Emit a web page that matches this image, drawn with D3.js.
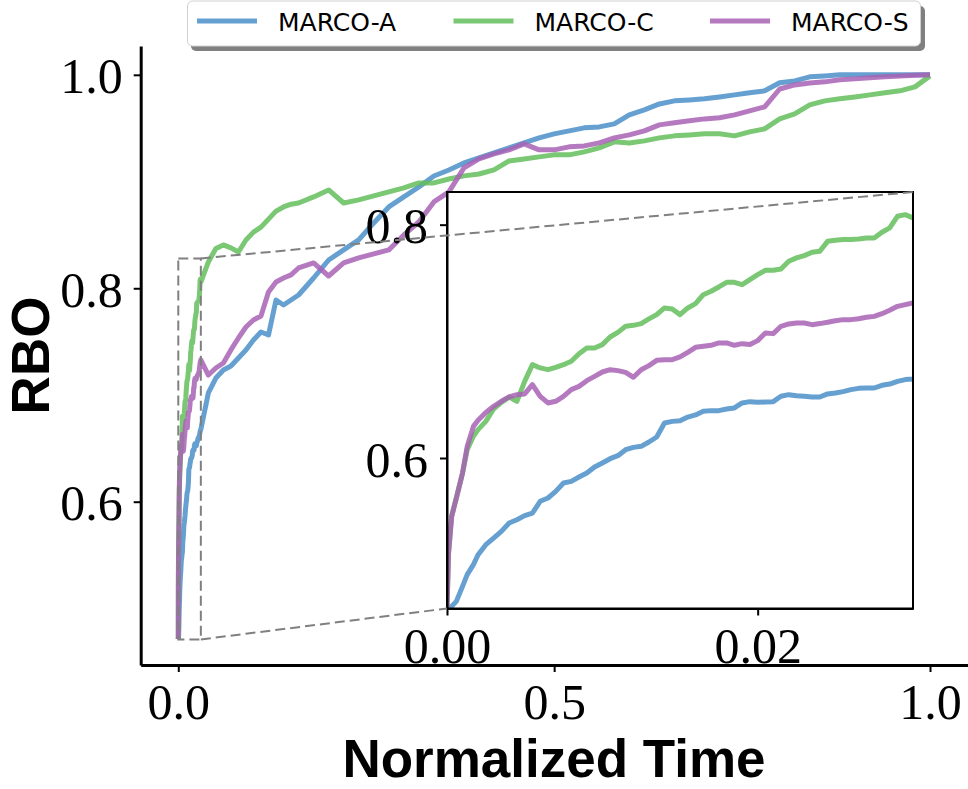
<!DOCTYPE html>
<meta charset="utf-8">

<style>

body {
  margin: 0;
  background: #fff;
}

.tick text {
  font: 50px "Liberation Serif", serif;
  fill: #000;
}

.label {
  font: bold 53px "Liberation Sans", sans-serif;
  fill: #000;
}

.legend text {
  font: 25px "DejaVu Sans", sans-serif;
  fill: #000;
}

</style>
<svg width="968" height="789"></svg>
<script src="https://d3js.org/d3.v7.min.js"></script>
<script>

// series names and colours
var names = ["MARCO-A", "MARCO-C", "MARCO-S"],
    colors = ["#4a8fc9", "#63bd5c", "#a862b5"];

// time samples inside the zoomed window (0 .. 0.03)
var zoomTime = [0, 0.0001, 0.0003, 0.0006, 0.001, 0.0013, 0.0017, 0.002,
  0.0025, 0.003, 0.0035, 0.004, 0.0045, 0.005, 0.0055, 0.006, 0.0065, 0.007,
  0.0075, 0.008, 0.0085, 0.009, 0.0095, 0.01, 0.0105, 0.011, 0.0115, 0.012,
  0.0125, 0.013, 0.0135, 0.014, 0.0145, 0.015, 0.0155, 0.016, 0.0165, 0.017,
  0.0175, 0.018, 0.0185, 0.019, 0.0195, 0.02, 0.0205, 0.021, 0.0215, 0.022,
  0.0225, 0.023, 0.0235, 0.024, 0.0245, 0.025, 0.0255, 0.026, 0.0265, 0.027,
  0.0275, 0.028, 0.0285, 0.029, 0.0295, 0.03];

// time samples for the rest of the run
var restTime = [0.04, 0.05, 0.06, 0.07, 0.08, 0.09, 0.10, 0.11, 0.12, 0.13,
  0.14, 0.15, 0.16, 0.18, 0.20, 0.22, 0.24, 0.26, 0.28, 0.30, 0.32, 0.34,
  0.36, 0.38, 0.40, 0.42, 0.44, 0.46, 0.48, 0.50, 0.52, 0.54, 0.56, 0.58,
  0.60, 0.62, 0.64, 0.66, 0.68, 0.70, 0.72, 0.74, 0.76, 0.78, 0.80, 0.82,
  0.84, 0.86, 0.88, 0.90, 0.92, 0.94, 0.96, 0.98, 1.00];

// RBO values, zoomed part
var aZoom = [0.4714, 0.4720, 0.4728, 0.4771, 0.4900, 0.5000, 0.5086, 0.5171,
  0.5257, 0.5314, 0.5371, 0.5443, 0.5471, 0.5506, 0.5528, 0.5629, 0.5657,
  0.5714, 0.5786, 0.5800, 0.5837, 0.5871, 0.5923, 0.5957, 0.5994, 0.6020,
  0.6071, 0.6091, 0.6100, 0.6137, 0.6180, 0.6300, 0.6314, 0.6320, 0.6351,
  0.6369, 0.6400, 0.6406, 0.6406, 0.6420, 0.6429, 0.6472, 0.6483, 0.6477,
  0.6480, 0.6483, 0.6529, 0.6543, 0.6534, 0.6529, 0.6523, 0.6523, 0.6549,
  0.6557, 0.6569, 0.6586, 0.6597, 0.6600, 0.6600, 0.6623, 0.6634, 0.6657,
  0.6672, 0.6677];

var cZoom = [0.4714, 0.5186, 0.5500, 0.5657, 0.5871, 0.6071, 0.6186, 0.6243,
  0.6314, 0.6420, 0.6477, 0.6523, 0.6486, 0.6657, 0.6800, 0.6772, 0.6757,
  0.6777, 0.6800, 0.6829, 0.6894, 0.6943, 0.6943, 0.6972, 0.7037, 0.7077,
  0.7129, 0.7137, 0.7152, 0.7192, 0.7229, 0.7286, 0.7277, 0.7229, 0.7286,
  0.7323, 0.7400, 0.7429, 0.7466, 0.7506, 0.7506, 0.7486, 0.7529, 0.7572,
  0.7609, 0.7609, 0.7620, 0.7686, 0.7715, 0.7735, 0.7763, 0.7772, 0.7857,
  0.7866, 0.7872, 0.7872, 0.7877, 0.7886, 0.7886, 0.7935, 0.7972, 0.8072,
  0.8086, 0.8057];

var sZoom = [0.4714, 0.5186, 0.5500, 0.5657, 0.5871, 0.6100, 0.6271, 0.6323,
  0.6391, 0.6443, 0.6486, 0.6523, 0.6543, 0.6549, 0.6629, 0.6529, 0.6472,
  0.6486, 0.6529, 0.6586, 0.6614, 0.6663, 0.6700, 0.6737, 0.6757, 0.6749,
  0.6734, 0.6692, 0.6757, 0.6792, 0.6837, 0.6843, 0.6843, 0.6866, 0.6906,
  0.6949, 0.6957, 0.6966, 0.6986, 0.6986, 0.6966, 0.6980, 0.6972, 0.7006,
  0.7072, 0.7066, 0.7129, 0.7149, 0.7157, 0.7157, 0.7143, 0.7152, 0.7163,
  0.7177, 0.7186, 0.7186, 0.7194, 0.7206, 0.7214, 0.7237, 0.7266, 0.7300,
  0.7315, 0.7329];

// RBO values, rest of the run
var aRest = [0.7019, 0.7159, 0.7234, 0.7272, 0.7347, 0.7422, 0.7515, 0.7590,
  0.7562, 0.7890, 0.7843, 0.7890, 0.7937, 0.8096, 0.8265, 0.8359, 0.8453,
  0.8612, 0.8762, 0.8856, 0.8949, 0.9052, 0.9108, 0.9174, 0.9221, 0.9268,
  0.9315, 0.9362, 0.9409, 0.9447, 0.9475, 0.9503, 0.9512, 0.9540, 0.9625,
  0.9672, 0.9727, 0.9756, 0.9765, 0.9775, 0.9793, 0.9812, 0.9831, 0.9850,
  0.9925, 0.9943, 0.9981, 0.9990, 1.0, 1.0, 1.0, 1.0, 1.0, 1.0, 1.0];

var cRest = [0.8247, 0.8372, 0.8406, 0.8378, 0.8340, 0.8452, 0.8526, 0.8573,
  0.8648, 0.8723, 0.8762, 0.8788, 0.8799, 0.8856, 0.8921, 0.8799, 0.8828,
  0.8865, 0.8903, 0.8940, 0.8987, 0.8987, 0.9024, 0.9053, 0.9071, 0.9109,
  0.9193, 0.9212, 0.9231, 0.9250, 0.9250, 0.9278, 0.9315, 0.9372, 0.9362,
  0.9381, 0.9409, 0.9428, 0.9437, 0.9447, 0.9447, 0.9428, 0.9465, 0.9494,
  0.9587, 0.9634, 0.9718, 0.9756, 0.9775, 0.9793, 0.9812, 0.9831, 0.9850,
  0.9887, 0.9990];

var sRest = [0.7187, 0.7253, 0.7300, 0.7422, 0.7534, 0.7637, 0.7703, 0.7740,
  0.7965, 0.8059, 0.8096, 0.8125, 0.8190, 0.8237, 0.8115, 0.8237, 0.8284,
  0.8322, 0.8359, 0.8500, 0.8621, 0.8809, 0.8903, 0.9128, 0.9212, 0.9259,
  0.9297, 0.9353, 0.9297, 0.9297, 0.9325, 0.9334, 0.9362, 0.9409, 0.9437,
  0.9475, 0.9531, 0.9550, 0.9569, 0.9587, 0.9597, 0.9625, 0.9662, 0.9700,
  0.9867, 0.9905, 0.9924, 0.9934, 0.9953, 0.9962, 0.9972, 0.9981, 0.9990,
  0.9995, 1.0];

// axis ticks
var xTicks = [0, 0.5, 1.0],
    yTicks = [0.6, 0.8, 1.0],
    zoomXTicks = [0, 0.02],
    zoomYTicks = [0.6, 0.8];

// zoom window
var zoomX = [0, 0.03],
    zoomY = [0.471, 0.828];

var svg = d3.select("svg");

var time = zoomTime.concat(restTime);
var series = [aZoom.concat(aRest), cZoom.concat(cRest), sZoom.concat(sRest)].map(function(vals, i) {
  return { name: names[i], color: colors[i], points: vals.map(function(v, j) { return [time[j], v]; }) };
});

// main axes
var x = d3.scaleLinear().domain([-0.05, 1.05]).range([140.7, 967.6]),
    y = d3.scaleLinear().domain([0.447, 1.027]).range([665, 46]);

var gMain = svg.append("g");

var lineMain = d3.line()
    .x(function(d) { return x(d[0]); })
    .y(function(d) { return y(d[1]); });

gMain.selectAll(".series")
  .data(series)
  .enter().append("path")
    .attr("fill", "none")
    .attr("stroke", function(d) { return d.color; })
    .attr("stroke-opacity", 0.85)
    .attr("stroke-width", 5)
    .attr("stroke-linejoin", "round")
    .attr("d", function(d) { return lineMain(d.points); });

function styleAxis(g, w) {
  g.select(".domain").attr("stroke", "#000").attr("stroke-width", w);
  g.selectAll(".tick line").attr("stroke", "#000").attr("stroke-width", 2);
  g.selectAll(".tick text").attr("font-family", null).attr("font-size", null);
}

gMain.append("g")
    .attr("transform", "translate(140.7,0)")
    .call(d3.axisLeft(y).tickValues(yTicks).tickFormat(d3.format(".1f"))
      .tickSize(7).tickSizeOuter(0).tickPadding(11))
    .call(styleAxis, 3)
    .selectAll(".tick text").attr("dy", "0.36em");

gMain.append("g")
    .attr("transform", "translate(0,665)")
    .call(d3.axisBottom(x).tickValues(xTicks).tickFormat(d3.format(".1f"))
      .tickSize(7).tickSizeOuter(0).tickPadding(11.5))
    .call(styleAxis, 3);

svg.append("text")
    .attr("class", "label")
    .attr("x", 554)
    .attr("y", 777)
    .attr("text-anchor", "middle")
    .text("Normalized Time");

svg.append("text")
    .attr("class", "label")
    .attr("transform", "translate(49,355.5) rotate(-90)")
    .attr("text-anchor", "middle")
    .text("RBO");

// inset
var xi = d3.scaleLinear().domain(zoomX).range([447, 913]),
    yi = d3.scaleLinear().domain(zoomY).range([608.5, 192]);

var gInset = svg.append("g");

svg.append("clipPath")
    .attr("id", "inset-clip")
  .append("rect")
    .attr("x", xi(zoomX[0]))
    .attr("y", yi(zoomY[1]))
    .attr("width", xi(zoomX[1]) - xi(zoomX[0]))
    .attr("height", yi(zoomY[0]) - yi(zoomY[1]));

gInset.append("rect")
    .attr("x", xi(zoomX[0]))
    .attr("y", yi(zoomY[1]))
    .attr("width", xi(zoomX[1]) - xi(zoomX[0]))
    .attr("height", yi(zoomY[0]) - yi(zoomY[1]))
    .attr("fill", "#fff");

var lineInset = d3.line()
    .x(function(d) { return xi(d[0]); })
    .y(function(d) { return yi(d[1]); });

gInset.append("g")
    .attr("clip-path", "url(#inset-clip)")
  .selectAll("path")
  .data(series)
  .enter().append("path")
    .attr("fill", "none")
    .attr("stroke", function(d) { return d.color; })
    .attr("stroke-opacity", 0.85)
    .attr("stroke-width", 5)
    .attr("stroke-linejoin", "round")
    .attr("d", function(d) { return lineInset(d.points); });

gInset.append("g")
    .attr("transform", "translate(447,0)")
    .call(d3.axisLeft(yi).tickValues(zoomYTicks).tickFormat(d3.format(".1f"))
      .tickSize(7).tickSizeOuter(0).tickPadding(12))
    .call(styleAxis, 2)
    .selectAll(".tick text").attr("dy", "0.36em");

gInset.append("g")
    .attr("transform", "translate(0,608.5)")
    .call(d3.axisBottom(xi).tickValues(zoomXTicks).tickFormat(d3.format(".2f"))
      .tickSize(7).tickSizeOuter(0).tickPadding(12))
    .call(styleAxis, 2);

gInset.append("rect")
    .attr("x", xi(zoomX[0]))
    .attr("y", yi(zoomY[1]))
    .attr("width", xi(zoomX[1]) - xi(zoomX[0]))
    .attr("height", yi(zoomY[0]) - yi(zoomY[1]))
    .attr("fill", "none")
    .attr("stroke", "#000")
    .attr("stroke-width", 2);

// zoom indicator and connectors
var gZoom = svg.append("g")
    .attr("fill", "none")
    .attr("stroke", "#808080")
    .attr("stroke-width", 2)
    .attr("stroke-dasharray", "10,5");

gZoom.append("rect")
    .attr("x", x(zoomX[0]))
    .attr("y", y(zoomY[1]))
    .attr("width", x(zoomX[1]) - x(zoomX[0]))
    .attr("height", y(zoomY[0]) - y(zoomY[1]));

gZoom.append("line")
    .attr("x1", x(zoomX[1])).attr("y1", y(zoomY[1]))
    .attr("x2", xi(zoomX[1])).attr("y2", yi(zoomY[1]));

gZoom.append("line")
    .attr("x1", x(zoomX[1])).attr("y1", y(zoomY[0]))
    .attr("x2", xi(zoomX[0])).attr("y2", yi(zoomY[0]));

// legend
var gLegend = svg.append("g").attr("class", "legend");

gLegend.append("rect")
    .attr("x", 191).attr("y", 6)
    .attr("width", 734).attr("height", 45)
    .attr("rx", 5)
    .attr("fill", "#808080");

gLegend.append("rect")
    .attr("x", 187.5).attr("y", 1)
    .attr("width", 733).attr("height", 45)
    .attr("rx", 5)
    .attr("fill", "#fff")
    .attr("stroke", "#d0d0d0")
    .attr("stroke-width", 1);

var item = gLegend.selectAll(".item")
  .data(series)
  .enter().append("g")
    .attr("transform", function(d, i) { return "translate(" + (197 + i * 256.5) + ",0)"; });

item.append("line")
    .attr("x1", 0).attr("x2", 60)
    .attr("y1", 21).attr("y2", 21)
    .attr("stroke", function(d) { return d.color; })
    .attr("stroke-opacity", 0.85)
    .attr("stroke-width", 5);

item.append("text")
    .attr("x", 81)
    .attr("y", 30.5)
    .text(function(d) { return d.name; });

</script>
